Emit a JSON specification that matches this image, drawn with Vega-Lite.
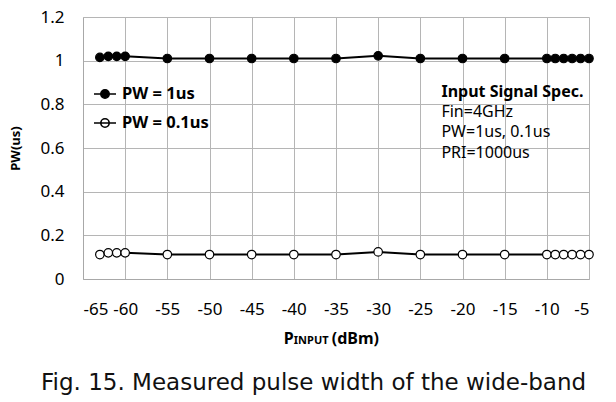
{
  "$schema": "https://vega.github.io/schema/vega-lite/v6.json",
  "width": 506,
  "height": 262,
  "autosize": {"type": "none"},
  "padding": {"left": 83, "top": 17, "right": 27, "bottom": 123},
  "background": "white",
  "config": {"view": {"stroke": null}, "font": "Noto Sans"},
  "title": {
    "text": "Fig. 15. Measured pulse width of the wide-band",
    "orient": "bottom",
    "anchor": "start",
    "frame": "group",
    "dx": -42,
    "offset": 25,
    "font": "DejaVu Sans",
    "fontSize": 23,
    "fontWeight": "normal",
    "color": "#111111"
  },
  "datasets": {
    "pulse": [
      {"p": -63, "pw": 1.015, "series": "PW = 1us"},
      {"p": -62, "pw": 1.02, "series": "PW = 1us"},
      {"p": -61, "pw": 1.02, "series": "PW = 1us"},
      {"p": -60, "pw": 1.02, "series": "PW = 1us"},
      {"p": -55, "pw": 1.01, "series": "PW = 1us"},
      {"p": -50, "pw": 1.01, "series": "PW = 1us"},
      {"p": -45, "pw": 1.01, "series": "PW = 1us"},
      {"p": -40, "pw": 1.01, "series": "PW = 1us"},
      {"p": -35, "pw": 1.01, "series": "PW = 1us"},
      {"p": -30, "pw": 1.022, "series": "PW = 1us"},
      {"p": -25, "pw": 1.01, "series": "PW = 1us"},
      {"p": -20, "pw": 1.01, "series": "PW = 1us"},
      {"p": -15, "pw": 1.01, "series": "PW = 1us"},
      {"p": -10, "pw": 1.01, "series": "PW = 1us"},
      {"p": -9, "pw": 1.01, "series": "PW = 1us"},
      {"p": -8, "pw": 1.01, "series": "PW = 1us"},
      {"p": -7, "pw": 1.01, "series": "PW = 1us"},
      {"p": -6, "pw": 1.01, "series": "PW = 1us"},
      {"p": -5, "pw": 1.01, "series": "PW = 1us"},
      {"p": -63, "pw": 0.112, "series": "PW = 0.1us"},
      {"p": -62, "pw": 0.12, "series": "PW = 0.1us"},
      {"p": -61, "pw": 0.12, "series": "PW = 0.1us"},
      {"p": -60, "pw": 0.12, "series": "PW = 0.1us"},
      {"p": -55, "pw": 0.112, "series": "PW = 0.1us"},
      {"p": -50, "pw": 0.112, "series": "PW = 0.1us"},
      {"p": -45, "pw": 0.112, "series": "PW = 0.1us"},
      {"p": -40, "pw": 0.112, "series": "PW = 0.1us"},
      {"p": -35, "pw": 0.112, "series": "PW = 0.1us"},
      {"p": -30, "pw": 0.124, "series": "PW = 0.1us"},
      {"p": -25, "pw": 0.112, "series": "PW = 0.1us"},
      {"p": -20, "pw": 0.112, "series": "PW = 0.1us"},
      {"p": -15, "pw": 0.112, "series": "PW = 0.1us"},
      {"p": -10, "pw": 0.112, "series": "PW = 0.1us"},
      {"p": -9, "pw": 0.112, "series": "PW = 0.1us"},
      {"p": -8, "pw": 0.112, "series": "PW = 0.1us"},
      {"p": -7, "pw": 0.112, "series": "PW = 0.1us"},
      {"p": -6, "pw": 0.112, "series": "PW = 0.1us"},
      {"p": -5, "pw": 0.112, "series": "PW = 0.1us"}
    ],
    "specBold": [{"label": "Input Signal Spec.", "p": -22.5, "pw": 0.857}],
    "specText": [
      {"label": "Fin=4GHz", "p": -22.5, "pw": 0.763},
      {"label": "PW=1us, 0.1us", "p": -22.5, "pw": 0.671},
      {"label": "PRI=1000us", "p": -22.5, "pw": 0.579}
    ],
    "titleP": [{"label": "P", "p": -41.2, "pw": -0.298}],
    "titleUnit": [{"label": "(dBm)", "p": -29.9, "pw": -0.298}],
    "titleSub": [{"label": "INPUT", "p": -40.0, "pw": -0.298}]
  },
  "layer": [
    {
      "data": {"name": "pulse"},
      "mark": {"type": "line", "color": "#000000", "strokeWidth": 2},
      "encoding": {
        "x": {
          "field": "p",
          "type": "quantitative",
          "scale": {"domain": [-65, -5], "nice": false, "zero": false},
          "axis": {
            "title": null,
            "values": [-65, -60, -55, -50, -45, -40, -35, -30, -25, -20, -15, -10, -5],
            "labelExpr": "'' + datum.value",
            "grid": true,
            "gridColor": "#b5b5b5",
            "gridWidth": 1,
            "domainColor": "#a8a8a8",
            "ticks": false,
            "tickSize": 0,
            "labelPadding": 22,
            "labelFontSize": 17,
            "labelColor": "#000000",
            "labelFont": "Noto Sans"
          }
        },
        "y": {
          "field": "pw",
          "type": "quantitative",
          "scale": {"domain": [0, 1.2], "nice": false},
          "axis": {
            "title": "PW(us)",
            "titleFontSize": 13,
            "titleFontWeight": "bold",
            "titleColor": "#000000",
            "titlePadding": 17,
            "values": [0, 0.2, 0.4, 0.6, 0.8, 1, 1.2],
            "format": ".1~f",
            "grid": true,
            "gridColor": "#b5b5b5",
            "gridWidth": 1,
            "domainColor": "#a8a8a8",
            "ticks": false,
            "tickSize": 0,
            "labelPadding": 19,
            "labelFontSize": 17,
            "labelColor": "#000000",
            "labelFont": "Noto Sans"
          }
        },
        "detail": {"field": "series"}
      }
    },
    {
      "data": {"name": "pulse"},
      "mark": {"type": "point", "shape": "circle", "filled": true, "stroke": "#000000", "strokeWidth": 1.2, "size": 72, "opacity": 1},
      "encoding": {
        "x": {"field": "p", "type": "quantitative"},
        "y": {"field": "pw", "type": "quantitative"},
        "fill": {
          "field": "series",
          "type": "nominal",
          "scale": {"domain": ["PW = 1us", "PW = 0.1us"], "range": ["#000000", "#ffffff"]},
          "legend": {
            "title": null,
            "orient": "none",
            "legendX": 10,
            "legendY": 65,
            "padding": 0,
            "direction": "vertical",
            "rowPadding": 8,
            "symbolType": "M-1,0H1M0.38,0A0.38,0.38,0,1,1,-0.38,0A0.38,0.38,0,1,1,0.38,0Z",
            "symbolSize": 484,
            "symbolStrokeColor": "#000000",
            "symbolStrokeWidth": 1.6,
            "symbolOpacity": 1,
            "labelFontSize": 16.5,
            "labelFontWeight": "bold",
            "labelFont": "Noto Sans",
            "labelColor": "#000000",
            "labelOffset": 5
          }
        }
      }
    },
    {
      "data": {"name": "specBold"},
      "mark": {"type": "text", "align": "left", "baseline": "middle", "fontSize": 16, "fontWeight": "bold", "font": "Noto Sans", "color": "#000000"},
      "encoding": {
        "x": {"field": "p", "type": "quantitative"},
        "y": {"field": "pw", "type": "quantitative"},
        "text": {"field": "label"}
      }
    },
    {
      "data": {"name": "specText"},
      "mark": {"type": "text", "align": "left", "baseline": "middle", "fontSize": 16, "font": "Noto Sans", "color": "#000000"},
      "encoding": {
        "x": {"field": "p", "type": "quantitative"},
        "y": {"field": "pw", "type": "quantitative"},
        "text": {"field": "label"}
      }
    },
    {
      "data": {"name": "titleP"},
      "mark": {"type": "text", "align": "left", "baseline": "alphabetic", "fontSize": 16, "fontWeight": "bold", "font": "Noto Sans", "color": "#000000"},
      "encoding": {
        "x": {"field": "p", "type": "quantitative"},
        "y": {"field": "pw", "type": "quantitative"},
        "text": {"field": "label"}
      }
    },
    {
      "data": {"name": "titleUnit"},
      "mark": {"type": "text", "align": "right", "baseline": "alphabetic", "fontSize": 16, "fontWeight": "bold", "font": "Noto Sans", "color": "#000000"},
      "encoding": {
        "x": {"field": "p", "type": "quantitative"},
        "y": {"field": "pw", "type": "quantitative"},
        "text": {"field": "label"}
      }
    },
    {
      "data": {"name": "titleSub"},
      "mark": {"type": "text", "align": "left", "baseline": "alphabetic", "fontSize": 11, "fontWeight": "bold", "font": "Noto Sans", "color": "#000000"},
      "encoding": {
        "x": {"field": "p", "type": "quantitative"},
        "y": {"field": "pw", "type": "quantitative"},
        "text": {"field": "label"}
      }
    }
  ]
}
